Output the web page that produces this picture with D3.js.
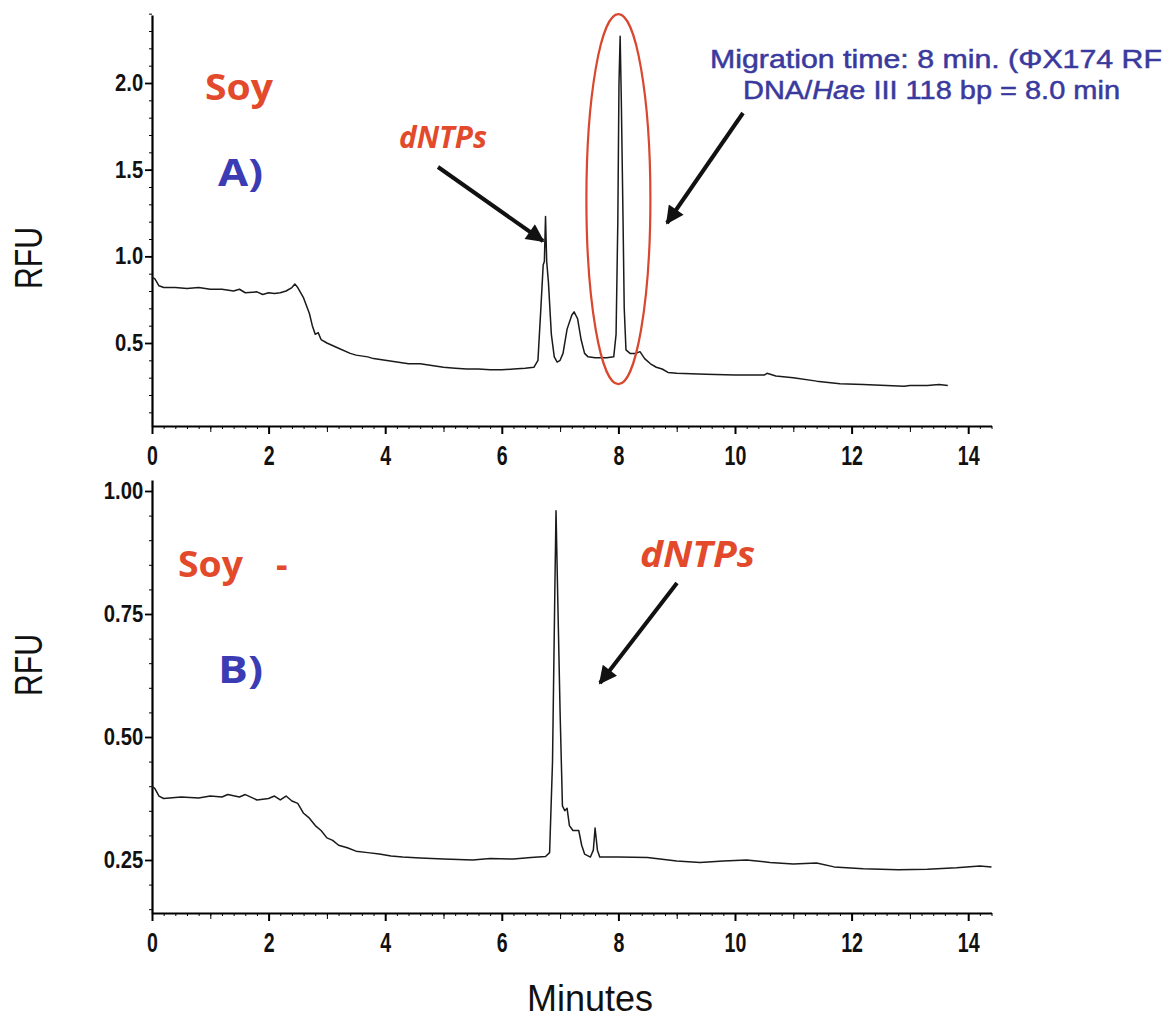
<!DOCTYPE html>
<html>
<head>
<meta charset="utf-8">
<script src="https://cdn.jsdelivr.net/npm/d3@7"></script>
<style>
  body { margin: 0; background: #fff; }
  svg { display: block; }
  .tick text { font-family: "Liberation Sans Narrow", "Liberation Sans", sans-serif; font-weight: bold; fill: #111; }
</style>
</head>
<body>
<div id="chart"></div>
<script>
// electropherogram A) Soy : migration time (min) / RFU
const timeA = [0, 0.05, 0.12, 0.2, 0.4, 0.6, 0.8, 1.0, 1.2, 1.4, 1.5, 1.6, 1.8, 1.9, 2.0, 2.1, 2.2, 2.3, 2.4, 2.45, 2.5,
  2.6, 2.7, 2.75, 2.8, 2.85, 2.9, 3.0, 3.2, 3.4, 3.5, 3.7, 3.8, 4.0, 4.2, 4.4, 4.6, 4.8, 5.0, 5.2, 5.4, 5.6, 5.8, 6.0,
  6.2, 6.4, 6.55, 6.62, 6.67, 6.71, 6.73, 6.75, 6.77, 6.8, 6.85, 6.9, 6.95, 7.0, 7.05, 7.12, 7.2, 7.24, 7.3, 7.36,
  7.42, 7.48, 7.6, 7.8, 7.92, 7.96, 7.99, 8.01, 8.03, 8.05, 8.08, 8.1, 8.13, 8.2, 8.3, 8.37, 8.45, 8.55, 8.65, 8.75,
  8.85, 9.0, 9.5, 10.0, 10.5, 10.55, 10.7, 11.0, 11.4, 11.8, 12.2, 12.6, 12.9, 13.0, 13.3, 13.5, 13.65]
const rfuA = [0.88, 0.87, 0.83, 0.82, 0.82, 0.815, 0.82, 0.81, 0.81, 0.8, 0.81, 0.79, 0.795, 0.78, 0.79, 0.785, 0.79, 0.8, 0.82, 0.84, 0.82,
  0.76, 0.67, 0.6, 0.55, 0.56, 0.52, 0.5, 0.47, 0.44, 0.43, 0.42, 0.41, 0.4, 0.39, 0.38, 0.38, 0.37, 0.36, 0.355, 0.35, 0.35, 0.345, 0.345,
  0.35, 0.355, 0.36, 0.4, 0.7, 0.95, 0.97, 1.23, 0.97, 0.85, 0.55, 0.42, 0.39, 0.4, 0.44, 0.58, 0.66, 0.68, 0.64, 0.52,
  0.44, 0.42, 0.415, 0.415, 0.42, 0.55, 1.2, 2.0, 2.27, 1.9, 1.2, 0.7, 0.46, 0.44, 0.44, 0.45, 0.41, 0.38, 0.36, 0.35,
  0.33, 0.325, 0.32, 0.315, 0.315, 0.325, 0.31, 0.3, 0.28, 0.265, 0.26, 0.255, 0.25, 0.255, 0.255, 0.26, 0.255]

// electropherogram B) Soy -
const timeB = [0, 0.05, 0.12, 0.2, 0.5, 0.8, 1.0, 1.2, 1.3, 1.5, 1.6, 1.8, 2.0, 2.1, 2.2, 2.3, 2.4, 2.5, 2.6, 2.7, 2.8,
  2.9, 3.0, 3.1, 3.2, 3.35, 3.5, 3.7, 3.9, 4.1, 4.3, 4.6, 5.0, 5.5, 5.8, 6.2, 6.5, 6.75, 6.82, 6.87, 6.91, 6.93, 6.96,
  7.0, 7.04, 7.08, 7.12, 7.16, 7.22, 7.32, 7.37, 7.42, 7.52, 7.57, 7.6, 7.64, 7.68, 8.0, 8.5, 9.0, 9.4, 9.8, 10.2,
  10.6, 11.0, 11.4, 11.7, 12.2, 12.8, 13.3, 13.8, 14.2, 14.4]
const rfuB = [0.4, 0.395, 0.38, 0.375, 0.378, 0.376, 0.38, 0.378, 0.383, 0.378, 0.383, 0.372, 0.375, 0.38, 0.372, 0.38, 0.37, 0.365, 0.345, 0.335, 0.32,
  0.31, 0.295, 0.29, 0.28, 0.275, 0.268, 0.265, 0.262, 0.258, 0.256, 0.254, 0.252, 0.25, 0.253, 0.252, 0.255, 0.257, 0.265, 0.45, 0.8, 0.96, 0.78,
  0.55, 0.36, 0.35, 0.355, 0.32, 0.31, 0.31, 0.28, 0.262, 0.256, 0.27, 0.315, 0.27, 0.256, 0.256, 0.255, 0.248, 0.245, 0.248, 0.25,
  0.245, 0.242, 0.244, 0.236, 0.232, 0.23, 0.231, 0.234, 0.238, 0.236]

const xMajor = [0, 2, 4, 6, 8, 10, 12, 14]
const yTicksA = [0.5, 1.0, 1.5, 2.0]
const yTicksB = [0.25, 0.5, 0.75, 1.0]

const width = 1166
const height = 1019
const red = '#e24a2b'
const blue = '#3b3bb3'

const svg = d3.select('#chart').append('svg')
  .attr('width', width)
  .attr('height', height)

// same time axis in both panels
const x = d3.scaleLinear().domain([0, 14.4]).range([152, 152 + 14.4 * 58.3])

const panels = [
  {
    time: timeA, rfu: rfuA, yTicks: yTicksA,
    y: d3.scaleLinear().domain([0.5, 2.0]).range([343, 83]),
    top: 15, base: 426, fmt: d3.format('.1f'), minorStep: 0.1
  },
  {
    time: timeB, rfu: rfuB, yTicks: yTicksB,
    y: d3.scaleLinear().domain([0.25, 1.0]).range([860, 491]),
    top: 480, base: 913, fmt: d3.format('.2f'), minorStep: 0.05
  }
]

panels.forEach(p => {
  const yAx = p.y.copy().domain([p.y.invert(p.base), p.y.invert(p.top)]).range([p.base, p.top])
  const g = svg.append('g')

  // minor ticks on x (0.2 min), medium on odd minutes
  const minor = d3.range(0, 14.41, 0.2).map(v => +v.toFixed(1))
  g.append('g')
    .attr('transform', `translate(0,${p.base})`)
    .call(d3.axisBottom(x).tickValues(minor).tickSize(3).tickFormat(''))
    .call(s => s.select('.domain').remove())
  g.append('g')
    .attr('transform', `translate(0,${p.base})`)
    .call(d3.axisBottom(x).tickValues([1, 3, 5, 7, 9, 11, 13]).tickSize(6).tickFormat(''))
    .call(s => s.select('.domain').remove())
  const xa = g.append('g')
    .attr('transform', `translate(0,${p.base})`)
    .call(d3.axisBottom(x).tickValues(xMajor).tickSize(8).tickSizeOuter(0).tickPadding(11).tickFormat(d3.format('d')))
  xa.select('.domain').attr('stroke-width', 2.2)
  xa.selectAll('.tick line').attr('stroke-width', 2)
  xa.selectAll('.tick text')
    .attr('font-size', 28)
    .attr('transform', 'scale(0.7,1)')

  // y axis
  const yMinor = d3.range(yAx.domain()[0], yAx.domain()[1], p.minorStep)
    .map(v => Math.ceil(v / p.minorStep) * p.minorStep)
  g.append('g')
    .attr('transform', 'translate(152,0)')
    .call(d3.axisLeft(yAx).tickValues(yMinor).tickSize(3).tickFormat(''))
    .call(s => s.select('.domain').remove())
  const ya = g.append('g')
    .attr('transform', 'translate(152,0)')
    .call(d3.axisLeft(yAx).tickValues(p.yTicks).tickSize(7).tickSizeOuter(0).tickPadding(3).tickFormat(p.fmt))
  ya.select('.domain').attr('stroke-width', 2.2)
  ya.selectAll('.tick line').attr('stroke-width', 1.8)
  ya.selectAll('.tick text')
    .attr('font-size', 23)
    .attr('transform', 'scale(0.88,1)')

  // trace
  const pts = p.time.map((t, i) => [t, p.rfu[i]])
  g.append('path')
    .datum(pts)
    .attr('fill', 'none')
    .attr('stroke', '#1a1a1a')
    .attr('stroke-width', 1.5)
    .attr('stroke-linejoin', 'round')
    .attr('d', d3.line().x(d => x(d[0])).y(d => p.y(d[1])))
})

// arrows
svg.append('defs').append('marker')
  .attr('id', 'head')
  .attr('viewBox', '0 0 10 10')
  .attr('refX', 9).attr('refY', 5)
  .attr('markerWidth', 5).attr('markerHeight', 4.5)
  .attr('orient', 'auto')
  .append('path')
  .attr('d', 'M0,0L10,5L0,10z')
  .attr('fill', '#111')

const arrows = [
  [438, 167, 543, 241],
  [743, 113, 667, 223],
  [677, 583, 600, 683]
]
svg.selectAll('.arrow')
  .data(arrows)
  .join('line')
  .attr('class', 'arrow')
  .attr('x1', d => d[0]).attr('y1', d => d[1])
  .attr('x2', d => d[2]).attr('y2', d => d[3])
  .attr('stroke', '#111')
  .attr('stroke-width', 4)
  .attr('marker-end', 'url(#head)')

// red ellipse round the 118 bp peak
const yA = panels[0].y
svg.append('ellipse')
  .attr('cx', x(8.0))
  .attr('cy', yA(1.33))
  .attr('rx', 32)
  .attr('ry', 185)
  .attr('fill', 'none')
  .attr('stroke', '#d9472e')
  .attr('stroke-width', 2.2)

// labels
const cal = '"Open Sans", Lato, sans-serif'
const label = (txt, xx, yy, opt) => svg.append('text')
  .attr('x', xx).attr('y', yy)
  .attr('font-family', opt.family || cal)
  .attr('font-weight', opt.weight || 'bold')
  .attr('font-style', opt.style || 'normal')
  .attr('font-size', opt.size)
  .attr('fill', opt.fill)
  .attr('textLength', opt.len || null)
  .attr('lengthAdjust', 'spacingAndGlyphs')
  .text(txt)

label('Soy', 205, 100, { size: 36, fill: red, len: 68 })
label('A)', 218, 186, { size: 38, fill: blue, len: 45 })
label('dNTPs', 399, 148, { size: 30, fill: red, style: 'italic', len: 88 })
label('Soy', 178, 577, { size: 36, fill: red, len: 65 })
label('-', 276, 577, { size: 36, fill: red })
label('B)', 218, 683, { size: 38, fill: blue, len: 45 })
label('dNTPs', 640, 567, { size: 36, fill: red, style: 'italic', len: 115 })

const note = svg.append('g')
  .attr('font-family', '"Liberation Sans", Arial, sans-serif')
  .attr('font-size', 25)
  .attr('fill', '#3a3a9e')
  .attr('stroke', '#3a3a9e')
  .attr('stroke-width', 0.5)
note.append('text')
  .attr('x', 710).attr('y', 68)
  .attr('textLength', 452).attr('lengthAdjust', 'spacingAndGlyphs')
  .text('Migration time: 8 min. (ΦX174 RF')
const l2 = note.append('text')
  .attr('x', 743).attr('y', 99)
  .attr('textLength', 377).attr('lengthAdjust', 'spacingAndGlyphs')
l2.append('tspan').text('DNA/')
l2.append('tspan').attr('font-style', 'italic').text('Ha')
l2.append('tspan').text('e III 118 bp = 8.0 min')

// axis titles
const title = svg.append('g')
  .attr('font-family', '"Liberation Sans", Arial, sans-serif')
  .attr('fill', '#111')
title.append('text')
  .attr('transform', 'translate(42,258) rotate(-90)')
  .attr('text-anchor', 'middle')
  .attr('font-size', 38)
  .attr('textLength', 62).attr('lengthAdjust', 'spacingAndGlyphs')
  .text('RFU')
title.append('text')
  .attr('transform', 'translate(42,665) rotate(-90)')
  .attr('text-anchor', 'middle')
  .attr('font-size', 38)
  .attr('textLength', 62).attr('lengthAdjust', 'spacingAndGlyphs')
  .text('RFU')
title.append('text')
  .attr('x', 590).attr('y', 1011)
  .attr('text-anchor', 'middle')
  .attr('font-size', 36)
  .text('Minutes')
</script>
</body>
</html>
